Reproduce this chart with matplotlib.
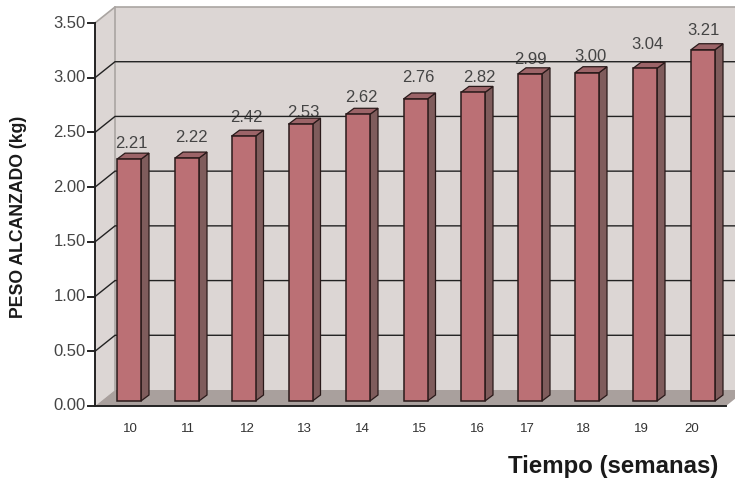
import matplotlib
matplotlib.use("Agg")
import matplotlib.pyplot as plt
from matplotlib.patches import Polygon

plt.rcParams["font.family"] = ["Liberation Sans", "DejaVu Sans"]

# data
semanas = ["10", "11", "12", "13", "14", "15", "16", "17", "18", "19", "20"]
peso = [2.21, 2.22, 2.42, 2.53, 2.62, 2.76, 2.82, 2.99, 3.00, 3.04, 3.21]
etiquetas_y = [0.0, 0.5, 1.0, 1.5, 2.0, 2.5, 3.0, 3.5]

# layout in pixels of the 735x480 picture
W, H = 735, 480
eje_izq, eje_der = 95, 726
y_cero, y_tope = 406, 23
prof_x, prof_y = 20, 16      # depth of the box
bar_dy = 5                   # bars stand a bit inside the floor
bar_prof_x, bar_prof_y = 8, 6
ancho = 24
centros = [129, 187, 243.5, 300.5, 358, 415.5, 473, 530, 587, 645, 703]

# the original places its labels a bit irregularly
pos_semana = [130, 188, 247, 304, 362, 419, 477, 527, 583, 641, 692]
pos_valor = [131, 191, 246, 303, 361, 418, 479, 530, 590, 647, 704]
alto_valor = [10, 15, 13, 6, 11, 15, 9, 8, 10, 18, 13]

pared = "#dcd6d4"
suelo = "#a9a09d"
gris = "#aaa5a2"
frente = "#bb7075"
lado = "#7f5c5c"
techo = "#9c6468"
borde = "#2a1a1a"
negro = "#222222"

fig = plt.figure(figsize=(W / 100, H / 100), dpi=100)
ax = fig.add_axes([eje_izq / W, 1 - y_cero / H, (eje_der - eje_izq) / W, (y_cero - y_tope) / H])
ax.set_xlim(eje_izq, eje_der)   # x in pixels, y in kg
ax.set_ylim(0, 3.5)
ax.patch.set_visible(False)
for s in ax.spines.values():
    s.set_visible(False)
ax.set_xticks([])
ax.set_yticks([])


def caja(xs, ys, color, z, ec="none", lw=0.0):
    ax.add_patch(Polygon(list(zip(xs, ys)), closed=True, fc=color, ec=ec, lw=lw,
                         transform=None, zorder=z, clip_on=False))


def linea(xs, ys, color, lw, z):
    ax.plot(xs, ys, color=color, lw=lw, transform=None, clip_on=False, zorder=z)


# walls and floor, in display pixels
izq, aba = ax.transData.transform((eje_izq, 0))
der, arr = ax.transData.transform((eje_der, 3.5))
caja([izq + prof_x, W, W, izq + prof_x], [aba + prof_y, aba + prof_y, arr + prof_y, arr + prof_y], pared, 1)
caja([izq, izq + prof_x, izq + prof_x, izq], [aba, aba + prof_y, arr + prof_y, arr], pared, 1)
caja([izq, der, der + prof_x, izq + prof_x], [aba, aba, aba + prof_y, aba + prof_y], suelo, 2)

# box edges in grey
linea([izq, izq + prof_x, W], [arr, arr + prof_y, arr + prof_y], gris, 1.2, 2)
linea([izq + prof_x] * 2, [aba + prof_y, arr + prof_y], gris, 1.2, 2)

# grid lines on the back wall and the side wall
for v in etiquetas_y[1:-1]:
    y = ax.transData.transform((eje_izq, v))[1]
    linea([izq, izq + prof_x, W], [y, y + prof_y, y + prof_y], negro, 1.0, 3)

# axes
linea([izq, izq], [aba, arr], negro, 1.4, 6)
linea([izq, der], [aba, aba], negro, 1.4, 6)
for v in etiquetas_y:
    y = ax.transData.transform((eje_izq, v))[1]
    linea([izq - 7, izq], [y, y], negro, 1.4, 6)
    ax.text(izq - 9, y, f"{v:.2f}", ha="right", va="center", fontsize=12, color="#444444",
            transform=None, clip_on=False)

# bars
for cx, p, xv, hv in zip(centros, peso, pos_valor, alto_valor):
    l, b0 = ax.transData.transform((cx - ancho / 2, 0))
    r, top = ax.transData.transform((cx + ancho / 2, p))
    b0 += bar_dy
    top += bar_dy
    caja([r, r + bar_prof_x, r + bar_prof_x, r], [b0, b0 + bar_prof_y, top + bar_prof_y, top], lado, 4, borde, 0.9)
    caja([l, r, r + bar_prof_x, l + bar_prof_x], [top, top, top + bar_prof_y, top + bar_prof_y], techo, 4, borde, 0.9)
    caja([l, r, r, l], [b0, b0, top, top], frente, 5, borde, 1.1)
    ax.text(xv, top + bar_prof_y + hv, f"{p:.2f}", ha="center", va="center", fontsize=12,
            color="#444444", transform=None, clip_on=False, zorder=2.5)

for s, xp in zip(semanas, pos_semana):
    fig.text(xp / W, 1 - 429 / H, s, ha="center", va="center", fontsize=9.5, color="#333333")

fig.text(613 / W, 1 - 466 / H, "Tiempo (semanas)", ha="center", va="center", fontsize=17.3,
         fontweight="bold", color="#1a1a1a")
fig.text(18.5 / W, 1 - 217 / H, "PESO ALCANZADO (kg)", ha="center", va="center", rotation=90,
         fontsize=12.7, fontweight="bold", color="#1a1a1a")

fig.savefig("out.png", dpi=100)
